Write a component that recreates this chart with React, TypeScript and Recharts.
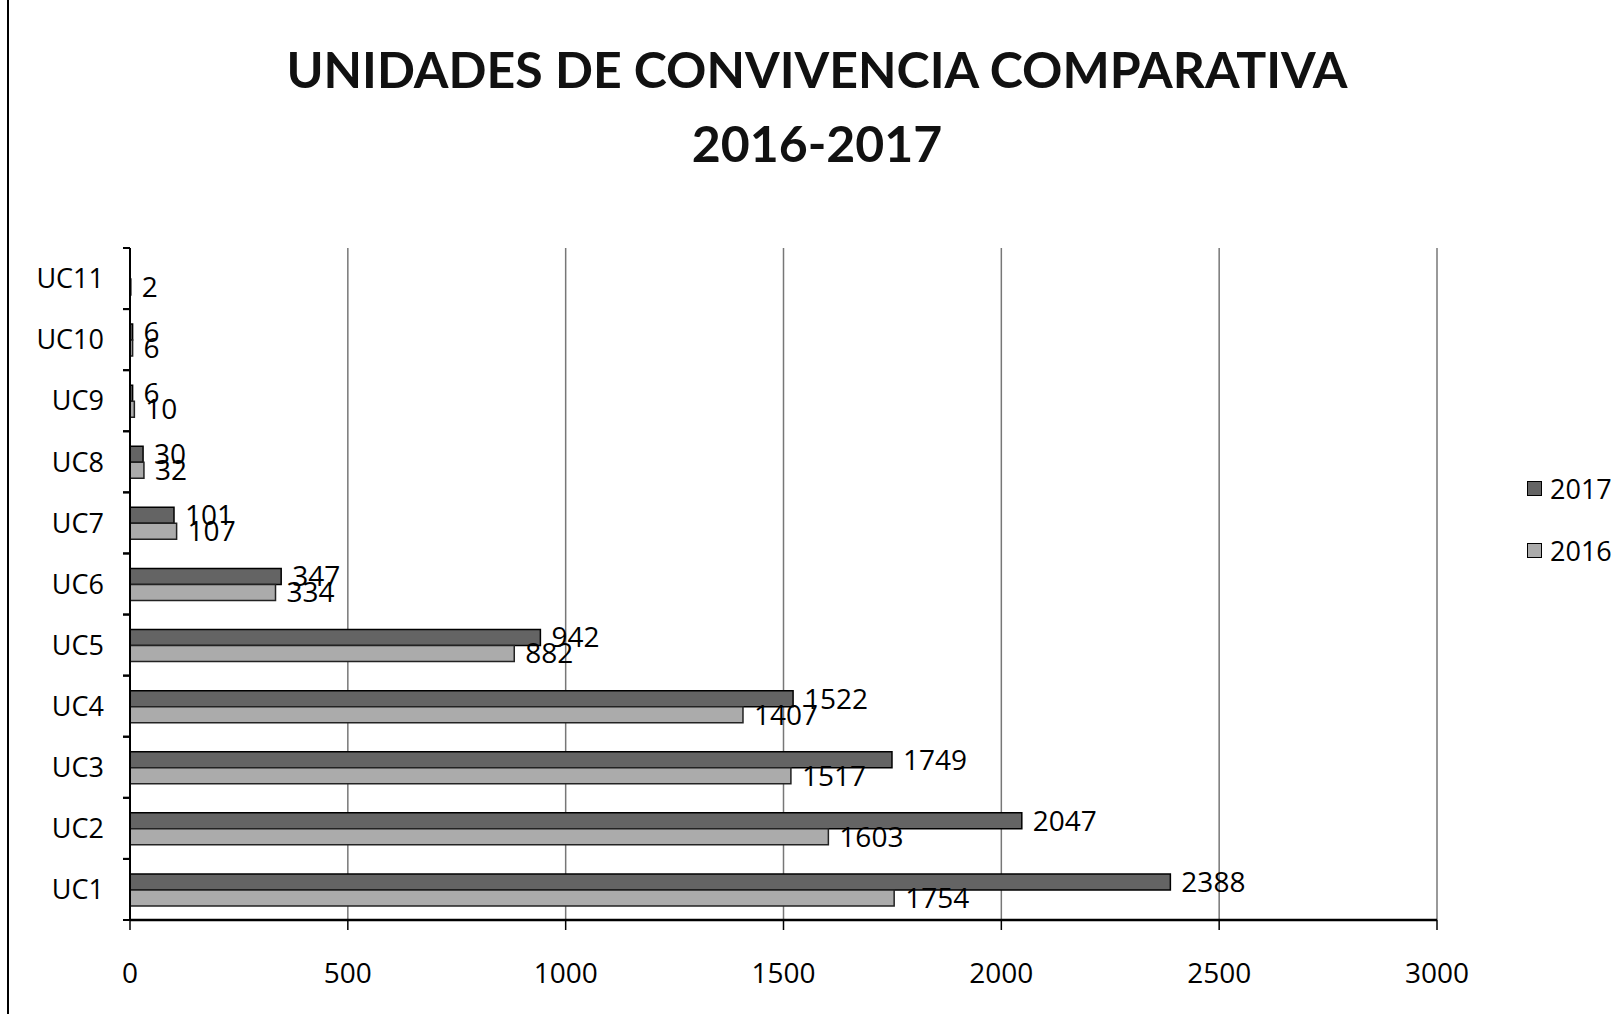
import {
  Bar,
  BarChart,
  CartesianGrid,
  LabelList,
  Legend,
  XAxis,
  YAxis,
} from "recharts";

const categories = ["UC1", "UC2", "UC3", "UC4", "UC5", "UC6", "UC7", "UC8", "UC9", "UC10", "UC11"];
const values2017 = [2388, 2047, 1749, 1522, 942, 347, 101, 30, 6, 6, null];
const values2016 = [1754, 1603, 1517, 1407, 882, 334, 107, 32, 10, 6, 2];
const xTicks = [0, 500, 1000, 1500, 2000, 2500, 3000];

const FONT = "'Open Sans', 'DejaVu Sans', sans-serif";
const DARK = "#646464";
const LIGHT = "#ababab";

const data = categories.map((name, i) => ({
  name,
  y2017: values2017[i],
  y2016: values2016[i],
}));

// category label plus Excel-style tick marks between categories
const CategoryTick = (props: any) => {
  const { x, y, payload } = props;
  const half = payload.offset || 0;
  return (
    <g>
      <line x1={x - 7} x2={x} y1={y - half} y2={y - half} stroke="#000" strokeWidth={2} />
      <line x1={x - 7} x2={x} y1={y + half} y2={y + half} stroke="#000" strokeWidth={2} />
      <text
        x={x - 26}
        y={y}
        dy="0.36em"
        textAnchor="end"
        fill="#000"
        style={{ fontFamily: FONT, fontSize: 27 }}
      >
        {payload.value}
      </text>
    </g>
  );
};

const LegendBox = () => (
  <div style={{ fontFamily: FONT, fontSize: 27, color: "#000" }}>
    {[
      { label: "2017", color: DARK },
      { label: "2016", color: LIGHT },
    ].map((item) => (
      <div key={item.label} style={{ display: "flex", alignItems: "center", height: 62 }}>
        <span
          style={{
            width: 13,
            height: 13,
            background: item.color,
            border: "1px solid #000",
            marginRight: 8,
          }}
        />
        <span>{item.label}</span>
      </div>
    ))}
  </div>
);

export default function App() {
  return (
    <div
      style={{
        position: "absolute",
        left: 0,
        top: 0,
        width: 1618,
        height: 1014,
        background: "#fff",
        overflow: "hidden",
      }}
    >
      <div
        style={{
          position: "absolute",
          left: 7,
          top: 0,
          width: 0,
          height: 1014,
          borderLeft: "2px solid #000",
        }}
      />
      <div
        style={{
          position: "absolute",
          left: 0,
          width: 1634,
          top: 32,
          textAlign: "center",
          fontFamily: "Lato, 'Open Sans', sans-serif",
          fontWeight: 700,
          fontSize: 50,
          lineHeight: "74px",
          color: "#111",
        }}
      >
        UNIDADES DE CONVIVENCIA COMPARATIVA
        <br />
        2016-2017
      </div>
      <BarChart
        width={1618}
        height={1014}
        data={data}
        layout="vertical"
        barGap={0}
        margin={{ top: 248, right: 181, bottom: 34, left: 20 }}
        style={{ position: "absolute", left: 0, top: 0 }}
      >
        <CartesianGrid horizontal={false} stroke="#777" strokeWidth={1.5} />
        <XAxis
          type="number"
          domain={[0, 3000]}
          ticks={xTicks}
          height={60}
          tickSize={10}
          tickMargin={33}
          interval={0}
          axisLine={{ stroke: "#000", strokeWidth: 2.5 }}
          tickLine={{ stroke: "#000", strokeWidth: 1.5 }}
          tick={{ fill: "#000", fontFamily: FONT, fontSize: 28 }}
        />
        <YAxis
          type="category"
          dataKey="name"
          reversed
          width={110}
          tickLine={false}
          tickSize={0}
          tickMargin={0}
          axisLine={{ stroke: "#000", strokeWidth: 2 }}
          tick={<CategoryTick />}
        />
        <Legend
          layout="vertical"
          align="center"
          verticalAlign="middle"
          content={<LegendBox />}
          wrapperStyle={{ left: 1527, top: 457, width: 100 }}
        />
        <Bar
          dataKey="y2017"
          name="2017"
          fill={DARK}
          stroke="#000"
          strokeWidth={1.5}
          barSize={16}
          isAnimationActive={false}
        >
          <LabelList
            dataKey="y2017"
            position="right"
            offset={11}
            fill="#000"
            style={{ fontFamily: FONT, fontSize: 28 }}
          />
        </Bar>
        <Bar
          dataKey="y2016"
          name="2016"
          fill={LIGHT}
          stroke="#222"
          strokeWidth={1.5}
          barSize={16}
          isAnimationActive={false}
        >
          <LabelList
            dataKey="y2016"
            position="right"
            offset={11}
            fill="#000"
            style={{ fontFamily: FONT, fontSize: 28 }}
          />
        </Bar>
      </BarChart>
    </div>
  );
}
